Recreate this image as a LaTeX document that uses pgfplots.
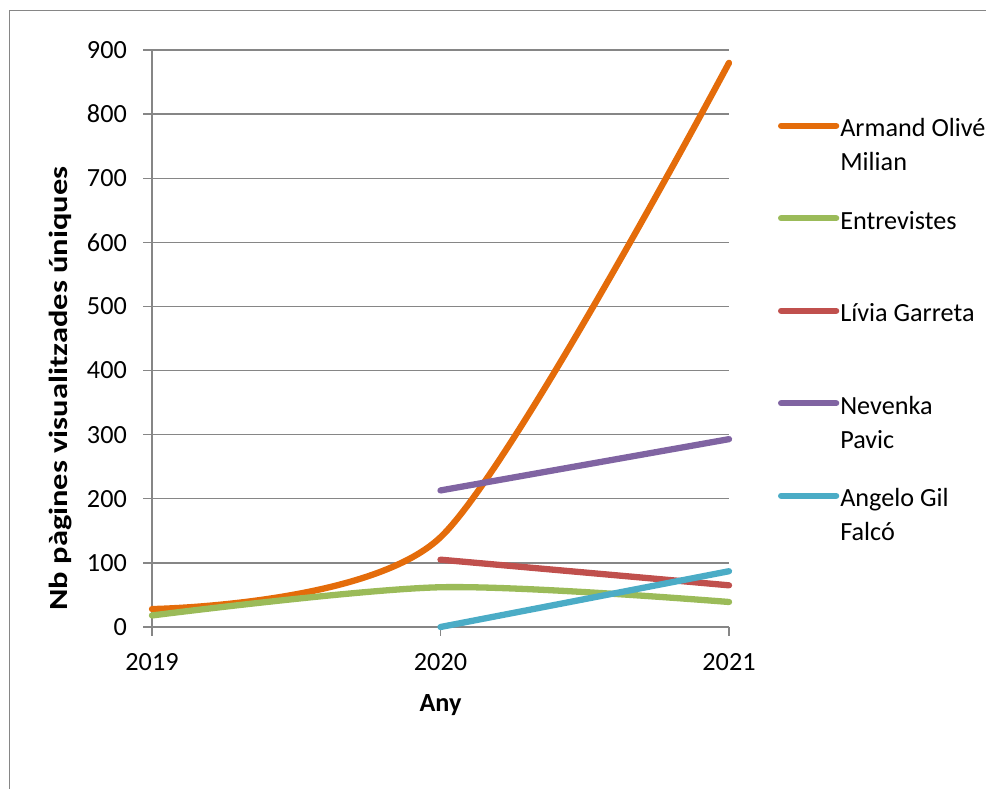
\documentclass[border=0pt]{standalone}
\usepackage{fontspec}
\setmainfont{Carlito}
\usepackage{pgfplots}
\pgfplotsset{compat=1.18}
\definecolor{cOr}{HTML}{E46C0A}
\definecolor{cGr}{HTML}{9BBB59}
\definecolor{cRe}{HTML}{C0504D}
\definecolor{cPu}{HTML}{8064A2}
\definecolor{cCy}{HTML}{4BACC6}
\definecolor{cAx}{HTML}{868686}
\newcommand\fs{\fontsize{26.2bp}{34bp}\selectfont}
\newcommand\two[2]{\raisebox{0pt}[\ht\strutbox][\dp\strutbox]{\begin{tabular}[t]{@{}l@{}}#1\\#2\end{tabular}}}
\begin{document}
\begin{tikzpicture}[x=1bp,y=1bp]
\useasboundingbox (0,0) rectangle (986,789);
\begin{scope}
\clip (0,0) rectangle (986,789);
\draw[cAx, line width=1.6bp] (9.5,778.5) -- (1000,778.5);
\draw[cAx, line width=1.6bp] (9.5,778.5) -- (9.5,-20);
\end{scope}
\begin{axis}[
  at={(152bp,162bp)}, anchor=south west,
  scale only axis, width=577bp, height=577bp,
  xmin=2019, xmax=2021, ymin=0, ymax=900,
  axis lines*=left,
  axis line style={cAx, line width=1.3bp},
  tick style={cAx, line width=1.3bp},
  major tick length=9bp,
  tick align=outside,
  xtick={2019,2020,2021}, xticklabels={2019,2020,2021},
  ytick={0,100,...,900},
  ymajorgrids, grid style={cAx, line width=1.3bp},
  /pgf/number format/assume math mode=true,
  ticklabel style={font=\fs, inner sep=0pt},
  yticklabel style={xshift=-16bp},
  xticklabel style={yshift=-17bp},
  label style={font=\fs\bfseries},
  xlabel={Any},
  ylabel={\scalebox{1.24}[1]{Nb pàgines visualitzades úniques}},
  xlabel style={at={(axis description cs:0.5,-0.1473)}, anchor=base},
  ylabel style={at={(axis description cs:-0.1456,0.413)}, anchor=base, rotate=0},
  clip=false,
  legend cell align=left,
  legend style={font=\fs, draw=none, fill=none, inner sep=0pt, outer sep=0pt,
    nodes={inner sep=0pt}, column sep=1bp, row sep=67.2bp,
    at={(axis description cs:1.0849,0.8906)}, anchor=north west},
  legend image code/.code={\draw[#1] (0bp,0bp) -- (55bp,0bp);},
]
\addplot[cOr, line width=6.3bp, line cap=round, line join=round, smooth, tension=0.45] coordinates {(2019,28) (2020,140) (2021,880)};
\addlegendentry{\two{Armand Olivé}{Milian}}
\addplot[cGr, line width=6.3bp, line cap=round, line join=round, smooth, tension=0.5] coordinates {(2019,18) (2020,62) (2021,39)};
\addlegendentry{\strut Entrevistes}
\addplot[cRe, line width=6.3bp, line cap=round] coordinates {(2020,105) (2021,65)};
\addlegendentry{\strut Lívia Garreta}
\addplot[cPu, line width=6.3bp, line cap=round] coordinates {(2020,213) (2021,293)};
\addlegendentry{\two{Nevenka}{Pavic}}
\addplot[cCy, line width=6.3bp, line cap=round] coordinates {(2020,0) (2021,87)};
\addlegendentry{\two{Angelo Gil}{Falcó}}
\end{axis}
\end{tikzpicture}
\end{document}
